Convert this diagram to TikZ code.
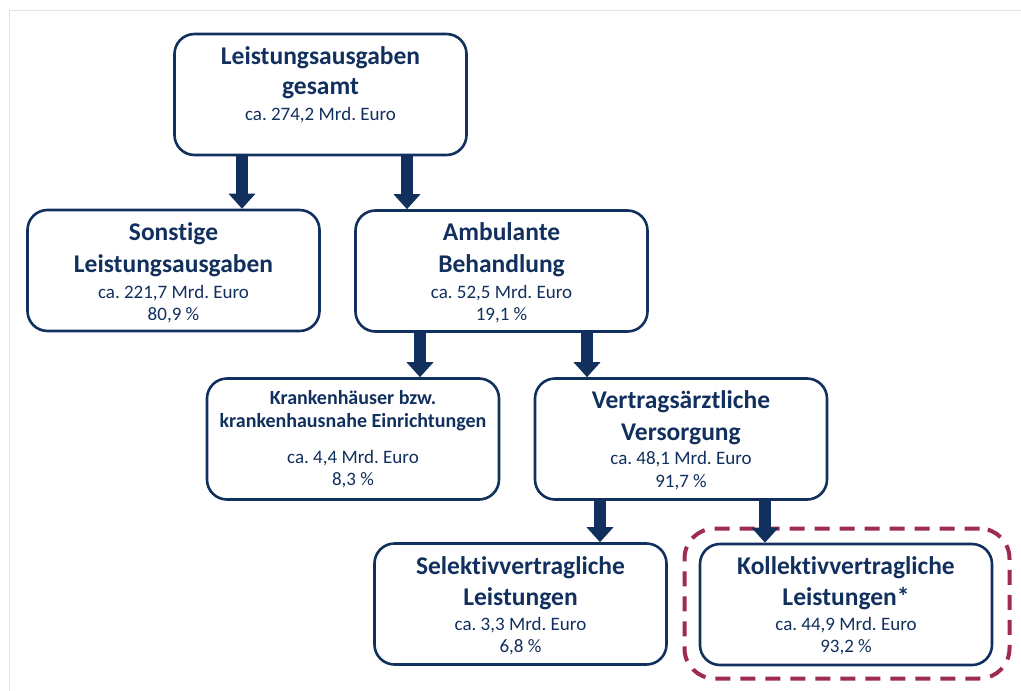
\documentclass[tikz,border=0pt]{standalone}
\usepackage{fontspec}
\setmainfont{Carlito}[Ligatures=NoCommon]
\usetikzlibrary{arrows.meta}
\definecolor{navy}{HTML}{11305E}
\definecolor{maroonc}{HTML}{9E2B52}
\definecolor{framec}{HTML}{E2E2E2}
\frenchspacing
\begin{document}
\begin{tikzpicture}[x=1pt,y=-1pt,
 box/.style={draw=navy,line width=2.6pt,rounded corners=20pt,fill=white,inner sep=0pt,minimum width=292pt,minimum height=121pt},
 ttl/.style={anchor=base,text=navy,font=\fontsize{25.5}{30}\selectfont\bfseries,inner sep=0pt},
 ttls/.style={anchor=base,text=navy,font=\fontsize{20}{24}\selectfont\bfseries,inner sep=0pt},
 sub/.style={anchor=base,text=navy,font=\fontsize{19}{22}\selectfont,inner sep=0pt},
 bigarrow/.style={draw=navy,line width=12pt,-{Triangle[length=15pt,width=26pt]}}
]
\useasboundingbox (0,0) rectangle (1021,691);
\fill[white] (0,0) rectangle (1021,691);
\draw[framec,line width=1pt] (9.5,691) -- (9.5,10.5) -- (1021,10.5);

% dashed highlight
\node[draw=maroonc,line width=4pt,dash pattern=on 15pt off 10pt,rounded corners=30pt,minimum width=325pt,minimum height=150pt,inner sep=0pt] (hl) at (847,603.5) {};

% boxes
\node[box] (top) at (320.5,94.5) {};
\node[box] (son) at (173.5,270.5) {};
\node[box] (amb) at (501.5,271) {};
\node[box] (kh)  at (353,439) {};
\node[box] (va)  at (681,439) {};
\node[box] (sel) at (520.5,604) {};
\node[box] (kol) at (846,604.5) {};

% arrow positions
\coordinate (a1) at (242,0);
\coordinate (a2) at (407,0);
\coordinate (a3) at (420,0);
\coordinate (a4) at (587,0);
\coordinate (a5) at (600,0);
\coordinate (a6) at (765,0);
\draw[bigarrow] (top.south -| a1) -- (son.north -| a1);
\draw[bigarrow] (top.south -| a2) -- (amb.north -| a2);
\draw[bigarrow] (amb.south -| a3) -- (kh.north -| a3);
\draw[bigarrow] (amb.south -| a4) -- (va.north -| a4);
\draw[bigarrow] (va.south -| a5) -- (sel.north -| a5);
\draw[bigarrow] (va.south -| a6) -- (kol.north -| a6);

% texts
\node[ttl] (t1a) at (320.5,64) {Leistungsausgaben};
\node[ttl] (t1b) at (320.5,94) {gesamt};
\node[sub] (t1c) at (320.5,120) {ca. 274,2 Mrd. Euro};

\node[ttl] (t2a) at (173.5,240) {Sonstige};
\node[ttl] (t2b) at (173.5,272) {Leistungsausgaben};
\node[sub] (t2c) at (173.5,298) {ca. 221,7 Mrd. Euro};
\node[sub] (t2d) at (173.5,320) {80,9 \%};

\node[ttl] (t3a) at (501.5,240) {Ambulante};
\node[ttl] (t3b) at (501.5,272) {Behandlung};
\node[sub] (t3c) at (501.5,298) {ca. 52,5 Mrd. Euro};
\node[sub] (t3d) at (501.5,320) {19,1 \%};

\node[ttls] (t4a) at (353,404) {Krankenhäuser bzw.};
\node[ttls] (t4b) at (353,427) {krankenhausnahe Einrichtungen};
\node[sub] (t4c) at (353,463) {ca. 4,4 Mrd. Euro};
\node[sub] (t4d) at (353,485) {8,3 \%};

\node[ttl] (t5a) at (681,408.5) {Vertragsärztliche};
\node[ttl] (t5b) at (681,440.5) {Versorgung};
\node[sub] (t5c) at (681,464.5) {ca. 48,1 Mrd. Euro};
\node[sub] (t5d) at (681,487) {91,7 \%};

\node[ttl] (t6a) at (520.5,574) {Selektivvertragliche};
\node[ttl] (t6b) at (520.5,605) {Leistungen};
\node[sub] (t6c) at (520.5,630) {ca. 3,3 Mrd. Euro};
\node[sub] (t6d) at (520.5,652) {6,8 \%};

\node[ttl] (t7a) at (846,574) {Kollektivvertragliche};
\node[ttl] (t7b) at (846,605) {Leistungen*};
\node[sub] (t7c) at (846,630) {ca. 44,9 Mrd. Euro};
\node[sub] (t7d) at (846,652) {93,2 \%};
\end{tikzpicture}
\end{document}
